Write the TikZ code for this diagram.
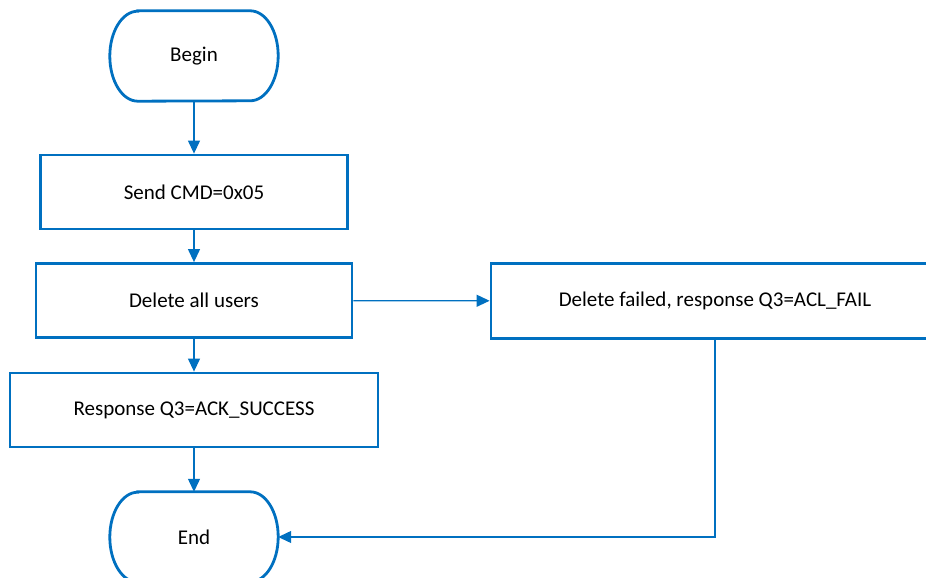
\documentclass[tikz,border=0pt]{standalone}
\usepackage{fontspec}
\setmainfont{Carlito}
\usetikzlibrary{arrows.meta}
\definecolor{flowblue}{RGB}{0,112,192}

\begin{document}
\begin{tikzpicture}[x=1pt,y=-1pt,
  box/.style={draw=flowblue,line width=2.8pt,inner sep=0pt,minimum width=#1,minimum height=74pt},
  term/.style={inner sep=0pt,minimum width=168pt,minimum height=90pt},
  conn/.style={draw=flowblue,line width=1.2pt,-{Triangle[length=13pt,width=12pt]}},
  font=\fontsize{21}{25}\selectfont]
\clip (0,0) rectangle (926,578);
\node[term] (bgn) at (194,56) {\raisebox{-2pt}{Begin}};
\node[box=307pt] (send) at (194,192) {Send CMD=0x05};
\node[box=316pt] (del) at (194,300.5) {Delete all users};
\node[box=368pt] (resp) at (194,410) {Response Q3=ACK\_SUCCESS};
\node[term] (fin) at (194,537) {End};
\node[box=448pt,minimum height=75pt] (fail) at (715,301) {Delete failed, response Q3=ACL\_FAIL};
% terminal outlines
\foreach \t in {bgn,fin}
  \draw[flowblue,line width=2.8pt] ([xshift=28pt]\t.north west) -- ([xshift=-28pt]\t.north east)
    arc[start angle=90,end angle=-90,x radius=28pt,y radius=45pt]
    -- ([xshift=28pt]\t.south west)
    arc[start angle=270,end angle=90,x radius=28pt,y radius=45pt] -- cycle;
\draw[conn] (bgn) -- (send);
\draw[conn] (send) -- (del);
\draw[conn] (del) -- (resp);
\draw[conn] (resp) -- (fin);
\draw[conn] (del) -- (fail);
\draw[conn] (fail.south) |- (fin.east);
\end{tikzpicture}
\end{document}
